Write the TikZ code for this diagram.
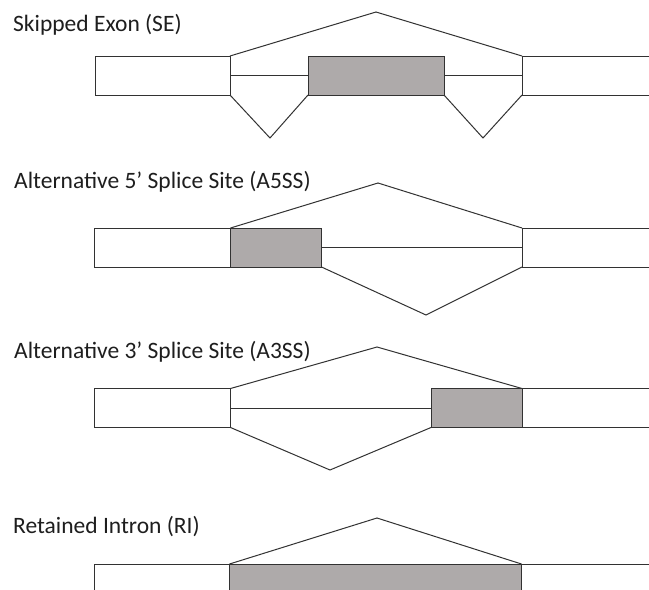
\documentclass[tikz,border=0pt]{standalone}
\usepackage{fontspec}
\setmainfont{Carlito}
\definecolor{linegray}{RGB}{50,50,50}
\definecolor{exongray}{RGB}{174,170,170}
\definecolor{textgray}{RGB}{30,30,30}
\begin{document}
\begin{tikzpicture}[x=1pt,y=-1pt,
  exon/.style={draw=linegray, line width=1pt, fill=white, inner sep=0pt,
    outer sep=0pt, minimum height=39pt, anchor=north west},
  altexon/.style={exon, fill=exongray},
  junction/.style={draw=linegray, line width=1pt, line join=miter},
  title/.style={anchor=base west, inner sep=0pt, text=textgray,
    font=\fontsize{23.5}{28}\selectfont}]
\useasboundingbox (0,0) rectangle (649,590);
\fill[white] (0,0) rectangle (649,590);
\clip (0,0) rectangle (649,590);

% ---- Skipped exon ----
\node[title] (tse) at (13,31.7) {Skipped Exon (SE)};
\node[exon, minimum width=135pt] (se1) at (95,56) {};
\node[altexon, minimum width=136pt] (se2) at (308,56) {};
\node[exon, minimum width=140pt] (se3) at (522,56) {};
\coordinate (sepk) at (376,12);
\coordinate (sev1) at (270,138);
\coordinate (sev2) at (483,138);
\draw[junction] (se1.north east) -- (sepk) -- (se3.north west);
\draw[junction] (se1.east) -- (se2.west);
\draw[junction] (se2.east) -- (se3.west);
\draw[junction] (se1.south east) -- (sev1) -- (se2.south west);
\draw[junction] (se2.south east) -- (sev2) -- (se3.south west);

% ---- Alternative 5' splice site ----
\node[title] (ta5) at (14,188.3) {Alternative 5’ Splice Site (A5SS)};
\node[exon, minimum width=136pt] (a51) at (94.5,228) {};
\node[altexon, minimum width=91pt] (a52) at (230.5,228) {};
\node[exon, minimum width=140pt] (a53) at (522,228) {};
\coordinate (a5pk) at (378,183);
\coordinate (a5v) at (426,315);
\draw[junction] (a52.north west) -- (a5pk) -- (a53.north west);
\draw[junction] (a52.east) -- (a53.west);
\draw[junction] (a52.south east) -- (a5v) -- (a53.south west);

% ---- Alternative 3' splice site ----
\node[title] (ta3) at (14,358.3) {Alternative 3’ Splice Site (A3SS)};
\node[exon, minimum width=136pt] (a31) at (94.5,388.5) {};
\node[altexon, minimum width=91pt] (a32) at (431,388.5) {};
\node[exon, minimum width=140pt] (a33) at (522,388.5) {};
\coordinate (a3pk) at (377,347);
\coordinate (a3v) at (330,470);
\draw[junction] (a31.north east) -- (a3pk) -- (a32.north east);
\draw[junction] (a31.east) -- (a32.west);
\draw[junction] (a31.south east) -- (a3v) -- (a32.south west);

% ---- Retained intron ----
\node[title] (tri) at (13,533.3) {Retained Intron (RI)};
\node[exon, minimum width=135pt] (ri1) at (94.5,564) {};
\node[altexon, minimum width=292pt] (ri2) at (229.5,564) {};
\node[exon, minimum width=140pt] (ri3) at (521.5,564) {};
\coordinate (ripk) at (377,518);
\draw[junction] (ri2.north west) -- (ripk) -- (ri2.north east);
\end{tikzpicture}
\end{document}
